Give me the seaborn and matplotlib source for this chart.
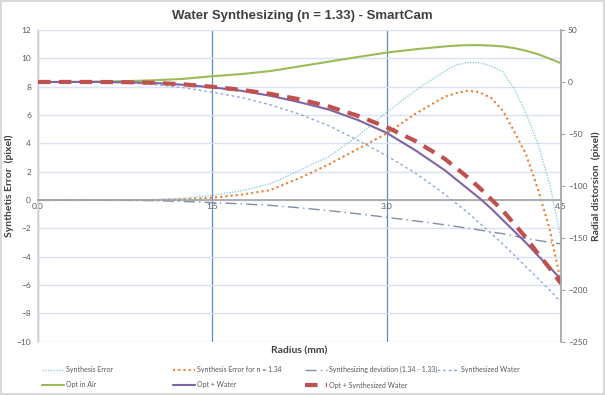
#!/usr/bin/env python3
#===============================================================================
# plot - water synthesizing chart
#===============================================================================

# Imports ======================================================================

import matplotlib
matplotlib.use('Agg')
import matplotlib.pyplot as plt
import seaborn as sns


# Data =========================================================================

radius = [0, 0.25, 0.5, 0.75, 1.0, 1.25, 1.5, 1.75, 2.0, 2.25, 2.5, 2.75, 3.0,
          3.25, 3.5, 3.6, 3.7, 3.8, 3.9, 4.0, 4.1, 4.2, 4.3, 4.4, 4.5]

# left axis (pixel error)
synthesis_error = [0, 0, 0, 0, 0.03, 0.12, 0.33, 0.65, 1.15, 2.1, 3.05, 4.5,
                   6.2, 7.75, 9.1, 9.55, 9.7, 9.7, 9.45, 9.05, 7.8, 6.1, 4.0,
                   1.2, -2.7]
synthesis_error_134 = [0, 0, 0, 0, 0, 0.05, 0.16, 0.38, 0.7, 1.55, 2.5, 3.6,
                       4.7, 6.1, 7.3, 7.55, 7.73, 7.6, 7.2, 6.3, 4.8, 3.2, 0.8,
                       -2.0, -5.8]
deviation = [0, 0, 0, -0.02, -0.05, -0.1, -0.19, -0.27, -0.38, -0.55, -0.75,
             -0.97, -1.22, -1.48, -1.75, -1.87, -2.0, -2.12, -2.25, -2.38,
             -2.55, -2.72, -2.85, -2.98, -3.1]

# right axis (radial distortion)
synthesized_water = [0, 0, -0.2, -0.8, -2.5, -5.5, -9.8, -15, -22, -31, -42,
                     -56, -71, -88, -108, -117, -126, -136, -146, -156, -167,
                     -178, -189, -200, -212]
opt_in_air = [0, 0, 0.3, 0.8, 1.6, 3.0, 5.5, 7.6, 10.5, 15, 19.5, 24, 28.3,
              31.5, 34.2, 35, 35.4, 35.4, 35, 34.2, 32.5, 30, 26.8, 22.5, 18]
opt_water = [0, 0, 0, -0.3, -1.0, -2.7, -5.2, -8.5, -13.3, -19.5, -26.5,
             -36.5, -49, -66, -85, -94, -103, -112, -122, -133, -144, -155,
             -167, -178, -190]
opt_synth_water = [0, 0, 0, -0.2, -0.8, -2.3, -4.6, -7.6, -11.5, -16.7, -23.5,
                   -32.5, -43.5, -57, -74, -83, -92, -102, -113, -124, -137,
                   -150, -165, -179, -194]

x_ticks = [0, 1.5, 3.0, 4.5]
left_ticks = list(range(-10, 13, 2))
right_ticks = list(range(-250, 51, 50))


# Functions ====================================================================

def main():
    sns.set_theme(style='white')
    plt.rcParams['font.family'] = ['Lato', 'DejaVu Sans']

    fig = plt.figure(figsize=(6.05, 3.95), dpi=100)
    fig.patch.set_edgecolor('#d9d9d9')
    fig.patch.set_linewidth(1.5)
    ax = fig.add_axes([0.0628, 0.135, 0.8645, 0.789])
    ax2 = ax.twinx()

    # left axis series
    sns.lineplot(x=radius, y=synthesis_error, ax=ax, color='#92cddc', lw=1,
                 linestyle=(0, (1, 1)), label='Synthesis Error', legend=False)
    sns.lineplot(x=radius, y=synthesis_error_134, ax=ax, color='#ed7d31',
                 lw=1.5, linestyle=(0, (1, 1.5)),
                 label='Synthesis Error for n = 1.34', legend=False)
    sns.lineplot(x=radius, y=deviation, ax=ax, color='#7f8fa9', lw=1,
                 linestyle=(0, (8, 3, 1, 3)),
                 label='Synthesizing deviation (1.34 - 1.33)', legend=False)

    # right axis series
    sns.lineplot(x=radius, y=synthesized_water, ax=ax2, color='#8ea9db', lw=1,
                 linestyle=(0, (2, 2)), label='Synthesized Water', legend=False)
    sns.lineplot(x=radius, y=opt_in_air, ax=ax2, color='#9bbb59', lw=1.5,
                 label='Opt in Air', legend=False)
    sns.lineplot(x=radius, y=opt_water, ax=ax2, color='#8064a2', lw=1.5,
                 label='Opt + Water', legend=False)
    sns.lineplot(x=radius, y=opt_synth_water, ax=ax2, color='#c0504d', lw=3,
                 linestyle=(0, (3, 2)), label='Opt + Synthesized Water',
                 legend=False)

    ax.set(xlim=(0, 4.5), ylim=(-10, 12), xticks=x_ticks, yticks=left_ticks)
    ax2.set(ylim=(-250, 50), yticks=right_ticks)
    ax.set_xticklabels(['0.0', '1.5', '3.0', '4.5'])

    # grid
    ax.yaxis.grid(True, color='#d9e1f2', lw=1)
    ax.xaxis.grid(True, color='#5b8bc3', lw=0.9)
    for i in (0, -1):
        ax.get_xgridlines()[i].set_visible(False)
    ax.set_axisbelow(True)

    # spines
    ax.spines['bottom'].set_position(('data', 0))
    ax.spines['bottom'].set_color('#a6a6a6')
    ax.spines['left'].set_color('#d9d9d9')
    ax.spines['top'].set_visible(False)
    ax.spines['right'].set_visible(False)
    for side in ('left', 'top', 'bottom'):
        ax2.spines[side].set_visible(False)
    ax2.spines['right'].set_color('#a6a6a6')

    ax.tick_params(axis='x', length=0, pad=2, labelsize=6, labelcolor='#595959')
    ax.tick_params(axis='y', length=0, pad=5, labelsize=6, labelcolor='#595959')
    ax2.tick_params(axis='y', length=3, width=0.8, color='#a6a6a6', pad=2,
                    labelsize=6, labelcolor='#595959')

    # texts
    fig.suptitle('Water Synthesizing (n = 1.33) - SmartCam', y=0.975,
                 fontsize=9.5, fontweight='bold', color='#404040',
                 family=['Liberation Sans', 'DejaVu Sans'])
    ax.set_ylabel('Synthetis Error  (pixel)', fontsize=7.5, fontweight='bold',
                  color='#404040')
    ax.yaxis.set_label_coords(-0.046, 0.5)
    ax2.set_ylabel('Radial distorsion  (pixel)', fontsize=7.5,
                   fontweight='bold', color='#404040', rotation=90)
    ax2.yaxis.set_label_coords(1.059, 0.5)
    ax.text(0.5, -0.015, 'Radius (mm)', transform=ax.transAxes, ha='center',
            va='top', fontsize=7.5, fontweight='bold', color='#404040')

    # legend: four evenly spaced columns like the spreadsheet
    lines = ax.get_lines() + ax2.get_lines()
    columns = [[lines[0], lines[4]], [lines[1], lines[5]],
               [lines[2], lines[6]], [lines[3]]]
    col_x = [42, 173, 305, 437]
    for handles, x in zip(columns, col_x):
        fig.legend(handles=handles, labels=[h.get_label() for h in handles],
                   loc='upper left', bbox_to_anchor=(x / 605, 1 - 366 / 395),
                   frameon=False, fontsize=5.0, handlelength=3.1,
                   handletextpad=0.4, borderpad=0, borderaxespad=0,
                   labelspacing=1.2, labelcolor='#595959')

    fig.savefig('out.png', dpi=100)


# Execute ======================================================================

if __name__ == '__main__':
    main()
